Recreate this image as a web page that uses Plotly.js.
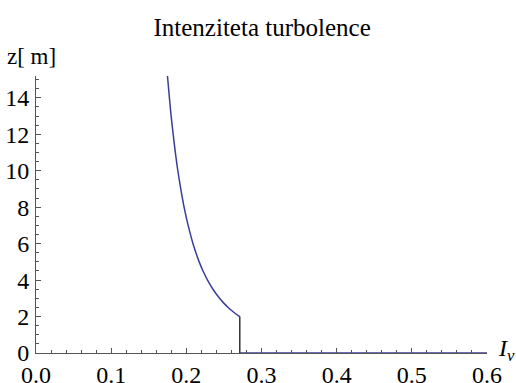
<!DOCTYPE html>
<html>
<head>
<meta charset="utf-8">
<script src="https://cdn.plot.ly/plotly-3.0.1.min.js"></script>
<style>html,body{margin:0;padding:0;background:#fff;}#chart{width:516px;height:383px;}</style>
</head>
<body>
<div id="chart"></div>
<script>
// Curve: height z [m] vs turbulence intensity I_v
const zCurve = [2, 2.25, 2.5, 2.75, 3, 3.5, 4, 4.5, 5, 6, 7, 8, 9, 10, 11, 12, 13, 14, 15.25];
const ivCurve = [0.2711, 0.2627, 0.2556, 0.2495, 0.2442, 0.2354, 0.2282, 0.2222, 0.2171, 0.2089, 0.2024, 0.1970, 0.1926, 0.1887, 0.1854, 0.1825, 0.1798, 0.1775, 0.1748];
// Ground segment (blue) along z = 0
const ivGround = [0.2711, 0.6];
const zGround = [0, 0];
// Vertical step (black) at z_min
const ivStep = [0.2711, 0.2711];
const zStep = [0, 2];
const xTicks = [0, 0.1, 0.2, 0.3, 0.4, 0.5, 0.6];
const yTicks = [0, 2, 4, 6, 8, 10, 12, 14];

const blue = '#3d3d99';
const font = 'Liberation Serif';

const traces = [
  {x: ivGround, y: zGround, mode: 'lines', line: {color: blue, width: 1.5}, hoverinfo: 'skip', cliponaxis: false},
  {x: ivCurve, y: zCurve, mode: 'lines', line: {color: blue, width: 1.5, shape: 'spline'}, cliponaxis: false},
  {x: ivStep, y: zStep, mode: 'lines', line: {color: '#333333', width: 1.5}, cliponaxis: false}
];

const layout = {
  width: 516, height: 383,
  margin: {l: 36, r: 29, t: 76, b: 30},
  paper_bgcolor: '#fff', plot_bgcolor: '#fff',
  showlegend: false,
  font: {family: font, size: 23, color: '#000'},
  title: {text: 'Intenziteta turbolence', font: {family: font, size: 25, color: '#000'},
          x: 0.508, xanchor: 'center', y: 0.93, yanchor: 'middle', yref: 'container'},
  xaxis: {
    range: [0, 0.6], tickvals: xTicks, ticktext: xTicks.map(v => v.toFixed(1)),
    showgrid: false, zeroline: false, showline: true, linecolor: '#555', linewidth: 1,
    ticks: 'inside', ticklen: 5, tickcolor: '#555', tickwidth: 1, ticklabelstandoff: 0,
    minor: {dtick: 0.02, tick0: 0, ticks: 'inside', ticklen: 3, tickcolor: '#555', showgrid: false},
    tickfont: {family: font, size: 24, color: '#000'}, fixedrange: true
  },
  yaxis: {
    range: [0, 15.2], tickvals: yTicks,
    showgrid: false, zeroline: false, showline: true, linecolor: '#555', linewidth: 1,
    ticks: 'inside', ticklen: 5, tickcolor: '#555', tickwidth: 1, ticklabelstandoff: 1,
    minor: {dtick: 0.5, tick0: 0, ticks: 'inside', ticklen: 3, tickcolor: '#555', showgrid: false},
    tickfont: {family: font, size: 24, color: '#000'}, fixedrange: true
  },
  annotations: [
    {text: 'z[ m]', xref: 'paper', yref: 'paper', x: -0.009, y: 1.07, xanchor: 'center', yanchor: 'middle',
     showarrow: false, font: {family: font, size: 23, color: '#000'}},
    {text: '<i>I</i><sub><i>v</i></sub>', xref: 'paper', yref: 'paper', x: 1.02, y: 0.01, xanchor: 'left', yanchor: 'middle',
     showarrow: false, font: {family: font, size: 24, color: '#000'}}
  ]
};

Plotly.newPlot('chart', traces, layout, {displayModeBar: false, staticPlot: true});
</script>
</body>
</html>
